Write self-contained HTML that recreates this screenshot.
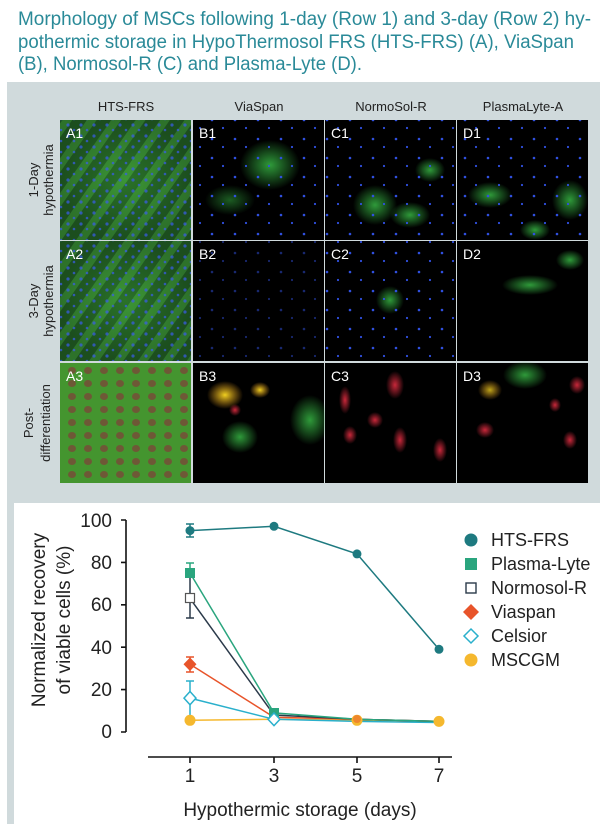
<!DOCTYPE html>
<html><head><meta charset="utf-8"><style>
html,body{margin:0;padding:0;background:#fff;width:600px;height:824px;overflow:hidden}
svg text{font-family:"Liberation Sans",sans-serif}
</style></head><body>
<svg width="600" height="824" viewBox="0 0 600 824" xmlns="http://www.w3.org/2000/svg">
<defs>
<radialGradient id="gA"><stop offset="0" stop-color="#3a9a36"/><stop offset="1" stop-color="#1d5220"/></radialGradient>
<radialGradient id="gB"><stop offset="0" stop-color="#2f9a3a"/><stop offset="1" stop-color="#2f9a3a" stop-opacity="0"/></radialGradient>
<radialGradient id="gR"><stop offset="0" stop-color="#c8283a"/><stop offset="1" stop-color="#c8283a" stop-opacity="0"/></radialGradient>
<radialGradient id="gY"><stop offset="0" stop-color="#f0d020"/><stop offset="1" stop-color="#f0a020" stop-opacity="0"/></radialGradient>
<pattern id="dots" width="13" height="11" patternUnits="userSpaceOnUse"><circle cx="3" cy="4" r="1.6" fill="#3a5cf0"/><circle cx="9" cy="9" r="1.3" fill="#3a5cf0"/></pattern>
<pattern id="streak" width="20" height="20" patternUnits="userSpaceOnUse" patternTransform="rotate(-55)"><rect width="20" height="20" fill="#1a4a1c"/><rect width="20" height="8" fill="#4cb040" opacity=".7"/></pattern>
<pattern id="sdots" width="23" height="19" patternUnits="userSpaceOnUse"><circle cx="5" cy="6" r="1.3" fill="#3050e0"/><circle cx="16" cy="14" r="1.1" fill="#3050e0"/></pattern>
<pattern id="cells" width="16" height="13" patternUnits="userSpaceOnUse"><rect width="16" height="13" fill="#4e9e34"/><ellipse cx="8" cy="6.5" rx="4" ry="3.5" fill="#9a3040"/></pattern>
</defs>
<g font-size="19" fill="#2a8a98">
<text x="18" y="25" textLength="573" lengthAdjust="spacingAndGlyphs">Morphology of MSCs following 1-day (Row 1) and 3-day (Row 2) hy-</text>
<text x="18" y="48" textLength="556" lengthAdjust="spacingAndGlyphs">pothermic storage in HypoThermosol FRS (HTS-FRS) (A), ViaSpan</text>
<text x="18" y="70" textLength="344" lengthAdjust="spacingAndGlyphs">(B), Normosol-R (C) and Plasma-Lyte (D).</text>
</g>
<rect x="7" y="82" width="593" height="742" fill="#d0dadc"/>
<g font-size="13" fill="#222" text-anchor="middle">
<text x="126" y="111">HTS-FRS</text><text x="259" y="111">ViaSpan</text><text x="391" y="111">NormoSol-R</text><text x="523" y="111">PlasmaLyte-A</text>
</g>
<g font-size="13" fill="#222" text-anchor="middle">
<text transform="translate(38,180) rotate(-90)">1-Day</text><text transform="translate(53,180) rotate(-90)">hypothermia</text>
<text transform="translate(38,301) rotate(-90)">3-Day</text><text transform="translate(53,301) rotate(-90)">hypothermia</text>
<text transform="translate(33,423) rotate(-90)">Post-</text><text transform="translate(50,423) rotate(-90)">differentiation</text>
</g>
<g>
<rect x="60" y="120" width="131" height="120" fill="url(#streak)"/><rect x="60" y="120" width="131" height="120" fill="url(#gA)" opacity=".5"/><rect x="60" y="120" width="131" height="120" fill="url(#dots)" opacity="0.7"/>
<rect x="60" y="241" width="131" height="120" fill="url(#streak)"/><rect x="60" y="241" width="131" height="120" fill="url(#gA)" opacity=".5"/><rect x="60" y="241" width="131" height="120" fill="url(#dots)" opacity="0.7"/>
<rect x="60" y="363" width="131" height="120" fill="url(#cells)"/><rect x="60" y="363" width="131" height="120" fill="#3a8a2a" opacity="0.45"/>
<rect x="193" y="120" width="131" height="120" fill="#000"/><ellipse cx="270" cy="165" rx="30" ry="25" fill="url(#gB)"/><ellipse cx="230" cy="200" rx="25" ry="15" fill="url(#gB)" opacity=".6"/><rect x="193" y="120" width="131" height="120" fill="url(#sdots)"/>
<rect x="193" y="241" width="131" height="120" fill="#000"/><rect x="193" y="241" width="131" height="120" fill="url(#sdots)" opacity=".5"/>
<rect x="193" y="363" width="131" height="120" fill="#000"/><ellipse cx="225" cy="395" rx="18" ry="14" fill="url(#gY)"/><ellipse cx="240" cy="437" rx="18" ry="16" fill="url(#gB)"/><ellipse cx="310" cy="420" rx="20" ry="25" fill="url(#gB)"/><ellipse cx="260" cy="390" rx="10" ry="8" fill="url(#gY)"/><ellipse cx="235" cy="410" rx="6" ry="6" fill="url(#gR)"/>
<rect x="325" y="120" width="131" height="120" fill="#000"/><ellipse cx="375" cy="205" rx="22" ry="20" fill="url(#gB)"/><ellipse cx="410" cy="215" rx="20" ry="13" fill="url(#gB)"/><ellipse cx="430" cy="170" rx="15" ry="12" fill="url(#gB)"/><rect x="325" y="120" width="131" height="120" fill="url(#sdots)"/>
<rect x="325" y="241" width="131" height="120" fill="#000"/><ellipse cx="390" cy="300" rx="14" ry="14" fill="url(#gB)"/><rect x="325" y="241" width="131" height="120" fill="url(#sdots)"/>
<rect x="325" y="363" width="131" height="120" fill="#000"/><ellipse cx="395" cy="385" rx="9" ry="14" fill="url(#gR)"/><ellipse cx="345" cy="400" rx="6" ry="14" fill="url(#gR)"/><ellipse cx="400" cy="440" rx="7" ry="13" fill="url(#gR)"/><ellipse cx="440" cy="450" rx="7" ry="12" fill="url(#gR)"/><ellipse cx="375" cy="420" rx="8" ry="8" fill="url(#gR)"/><ellipse cx="350" cy="435" rx="7" ry="9" fill="url(#gR)"/>
<rect x="457" y="120" width="131" height="120" fill="#000"/><ellipse cx="570" cy="200" rx="18" ry="20" fill="url(#gB)"/><ellipse cx="490" cy="195" rx="22" ry="13" fill="url(#gB)"/><ellipse cx="535" cy="230" rx="15" ry="10" fill="url(#gB)"/><rect x="457" y="120" width="131" height="120" fill="url(#sdots)"/>
<rect x="457" y="241" width="131" height="120" fill="#000"/><ellipse cx="530" cy="285" rx="28" ry="10" fill="url(#gB)"/><ellipse cx="570" cy="260" rx="14" ry="10" fill="url(#gB)"/>
<rect x="457" y="363" width="131" height="120" fill="#000"/><ellipse cx="525" cy="375" rx="22" ry="14" fill="url(#gB)"/><ellipse cx="490" cy="390" rx="12" ry="10" fill="url(#gY)" opacity=".8"/><ellipse cx="485" cy="430" rx="9" ry="8" fill="url(#gR)"/><ellipse cx="555" cy="405" rx="6" ry="7" fill="url(#gR)"/><ellipse cx="577" cy="385" rx="8" ry="9" fill="url(#gR)"/><ellipse cx="570" cy="440" rx="7" ry="9" fill="url(#gR)"/>
</g>
<g font-size="14" fill="#fff">
<text x="66" y="138">A1</text><text x="199" y="138">B1</text><text x="331" y="138">C1</text><text x="463" y="138">D1</text>
<text x="66" y="259">A2</text><text x="199" y="259">B2</text><text x="331" y="259">C2</text><text x="463" y="259">D2</text>
<text x="66" y="381">A3</text><text x="199" y="381">B3</text><text x="331" y="381">C3</text><text x="463" y="381">D3</text>
</g>
<rect x="14" y="503" width="586" height="321" fill="#fff"/>
<g stroke="#111" stroke-width="1.6" fill="none">
<path d="M126 520 V732"/>
<path d="M121 520 H126 M121 562.4 H126 M121 604.8 H126 M121 647.2 H126 M121 689.6 H126 M121 732 H126"/>
<path d="M148 757 H452"/>
<path d="M190 757 V763 M274 757 V763 M357 757 V763 M439 757 V763"/>
</g>
<g font-size="19" fill="#222" text-anchor="end">
<text x="112" y="527">100</text><text x="112" y="569">80</text><text x="112" y="611">60</text><text x="112" y="654">40</text><text x="112" y="696">20</text><text x="112" y="738">0</text>
</g>
<g font-size="19" fill="#222" text-anchor="middle">
<text x="190" y="782">1</text><text x="274" y="782">3</text><text x="357" y="782">5</text><text x="439" y="782">7</text>
<text x="300" y="816">Hypothermic storage (days)</text>
<text transform="translate(45,620) rotate(-90)">Normalized recovery</text>
<text transform="translate(70,620) rotate(-90)">of viable cells (%)</text>
</g>
<g fill="none" stroke-width="1.5">
<polyline stroke="#f5b82e" points="190,720.3 274,719.3 357,720.3 439,721.4"/>
<polyline stroke="#2ab0cc" points="190,698.1 274,719.3 357,721.4 439,722.5"/>
<polyline stroke="#e8542a" points="190,664.2 274,717.2 357,719.3 439,721.4"/>
<polyline stroke="#2b3a4a" points="190,598.4 274,715 357,719.3 439,721.4"/>
<polyline stroke="#2aa57e" points="190,573 274,712.9 357,719.3 439,721.4"/>
<polyline stroke="#1e7a80" points="190,530.6 274,526.3 357,553.9 439,649.3"/>
<path stroke="#1e7a80" d="M190 524 V537 M186 524 H194 M186 537 H194"/>
<path stroke="#2aa57e" d="M190 563 V578 M186 563 H194"/>
<path stroke="#2b3a4a" d="M190 574 V618 M186 618 H194"/>
<path stroke="#e8542a" d="M190 657 V672 M186 657 H194 M186 672 H194"/>
<path stroke="#2ab0cc" d="M190 681 V715 M186 681 H194"/>
</g>
<g>
<circle cx="190" cy="530.6" r="4.5" fill="#1e7a80"/><circle cx="274" cy="526.3" r="4.5" fill="#1e7a80"/><circle cx="357" cy="553.9" r="4.5" fill="#1e7a80"/><circle cx="439" cy="649.3" r="4.5" fill="#1e7a80"/>
<rect x="185" y="568" width="10" height="10" fill="#2aa57e"/><rect x="269" y="708" width="10" height="10" fill="#2aa57e"/>
<rect x="185.5" y="593.5" width="9" height="9" fill="#fff" stroke="#555" stroke-width="1.2"/>
<path d="M190 657.5 L196.5 664.2 L190 671 L183.5 664.2Z" fill="#e8542a"/>
<path d="M190 691.5 L196 698.1 L190 704.7 L184 698.1Z" fill="#fff" stroke="#2ab0cc" stroke-width="1.5"/>
<path d="M274 713 L280 719.3 L274 725.6 L268 719.3Z" fill="#fff" stroke="#2ab0cc" stroke-width="1.5"/>
<circle cx="190" cy="720.3" r="5.5" fill="#f5b82e"/><circle cx="357" cy="720.3" r="5.5" fill="#f5b82e"/><circle cx="439" cy="721.4" r="5.5" fill="#f5b82e"/><circle cx="357" cy="719" r="4" fill="#e8542a" opacity=".5"/>
</g>
<g>
<circle cx="471" cy="540" r="6.5" fill="#1e7a80"/>
<rect x="465" y="558" width="12" height="12" fill="#2aa57e"/>
<rect x="466" y="583" width="10" height="10" fill="#fff" stroke="#2b3a4a" stroke-width="1.4"/>
<path d="M471 604 L479 612 L471 620 L463 612Z" fill="#e8542a"/>
<path d="M471 629 L478 636 L471 643 L464 636Z" fill="#fff" stroke="#2ab0cc" stroke-width="1.5"/>
<circle cx="471" cy="660" r="6.5" fill="#f5b82e"/>
</g>
<g font-size="18" fill="#222">
<text x="491" y="546">HTS-FRS</text><text x="491" y="570">Plasma-Lyte</text><text x="491" y="594">Normosol-R</text><text x="491" y="618">Viaspan</text><text x="491" y="642">Celsior</text><text x="491" y="666">MSCGM</text>
</g>
</svg>
</body></html>
